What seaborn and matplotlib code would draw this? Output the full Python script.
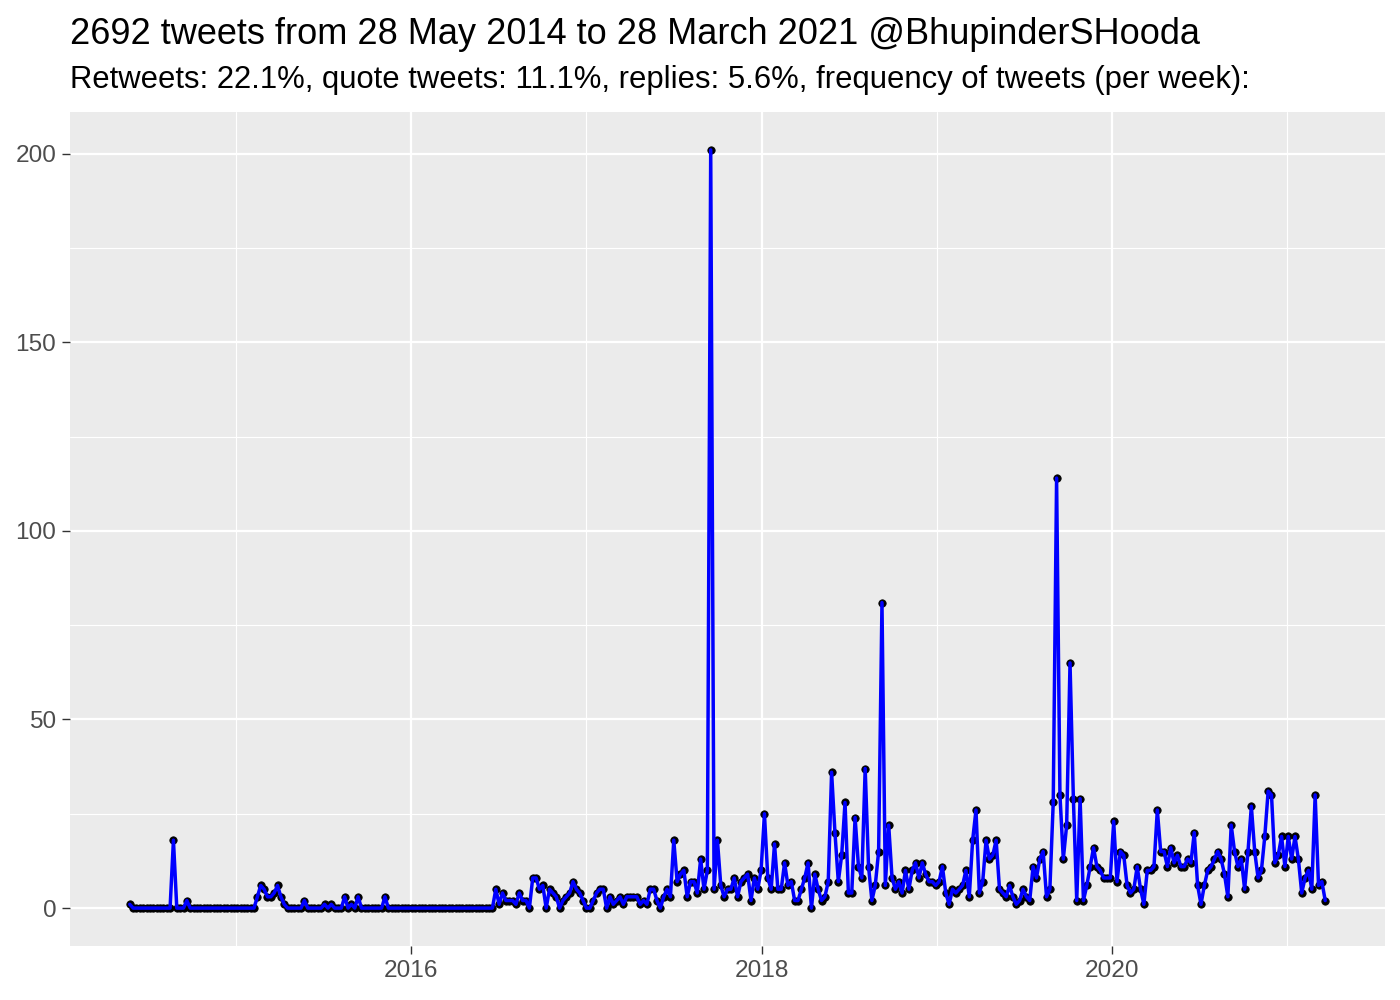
import matplotlib
matplotlib.use("Agg")
import matplotlib.pyplot as plt
import matplotlib.dates as mdates
import seaborn as sns
import pandas as pd
import numpy as np

# ---------------- data (weekly tweet counts) ----------------
start_date = "2014-05-25"

tweets_2014_15 = [
    1, 0, 0, 0, 0, 0, 0, 0, 0, 0, 0, 0, 0, 18, 0, 0, 0, 2, 0, 0,
    0, 0, 0, 0, 0, 0, 0, 0, 0, 0, 0, 0, 0, 0, 0, 0, 0, 0, 3, 6,
    5, 3, 3, 4, 6, 3, 1, 0, 0, 0, 0, 0, 2, 0, 0, 0, 0, 0, 1, 0,
    1, 0, 0, 0, 3, 0, 1, 0, 3, 0, 0, 0, 0, 0, 0, 0, 3,
]
tweets_2016 = [
    0, 0, 0, 0, 0, 0, 0, 0, 0, 0, 0, 0, 0, 0, 0, 0,
    0, 0, 0, 0, 0, 0, 0, 0, 0, 0, 0, 0, 0, 0, 0, 0,
    5, 1, 4, 2, 2, 2, 1, 4, 2, 2, 0, 8, 8, 5, 6, 0, 5, 4, 3, 0,
    2, 3, 4, 7, 5, 4, 2, 0, 0, 2, 4, 5, 5, 0, 3, 1, 2, 3, 1, 3,
]
tweets_2017 = [
    3, 3, 3, 1, 2, 1, 5, 5, 2, 0, 3, 5, 3, 18,
    7, 9, 10, 3, 7, 7, 4, 13, 5, 10, 201,
    5, 18, 6, 3, 5, 5, 8, 3, 7, 8, 9, 2, 8, 5, 10,
]
tweets_2018 = [
    25, 8, 5, 17, 5, 5, 12, 6, 7, 2, 2, 5, 8, 12, 0, 9, 5, 2, 3, 7,
    36, 20, 7, 14, 28, 4, 4, 24, 11, 8, 37, 11, 2, 6, 15, 81, 6, 22,
    8, 5, 7, 4, 10, 5, 10, 12, 8, 12, 9, 7, 7, 6, 7, 11, 4, 1, 5, 4,
    5, 6, 10, 3, 18,
]
tweets_2019 = [
    26, 4, 7, 18, 13, 14, 18, 5, 4, 3, 6, 3, 1, 2, 5, 3, 2, 11, 8, 13,
    15, 3, 5, 28, 114, 30, 13, 22, 65, 29, 2, 29, 2, 6, 11, 16, 11, 10,
    8, 8, 8, 23, 7, 15, 14, 6, 4, 5, 11, 5, 1, 10, 10, 11,
]
tweets_2020_21 = [
    26, 15, 15, 11, 16, 12, 14, 11, 11, 13, 12, 20, 6, 1, 6, 10, 11, 13,
    15, 13, 9, 3, 22, 15, 11, 13, 5, 15, 27, 15, 8, 10, 19, 31, 30, 12,
    14, 19, 11, 19, 13, 19, 13, 4, 8, 10, 5, 30, 6, 7, 2,
]

x_tick_years = [2016, 2018, 2020]
x_minor_years = [2015, 2017, 2019, 2021]
y_ticks = [0, 50, 100, 150, 200]
y_minor = [25, 75, 125, 175]

title = "2692 tweets from 28 May 2014 to 28 March 2021 @BhupinderSHooda"
subtitle = ("Retweets: 22.1%, quote tweets: 11.1%, replies: 5.6%, "
            "frequency of tweets (per week):")

# ---------------- build frame ----------------
counts = (tweets_2014_15 + tweets_2016 + tweets_2017 + tweets_2018
          + tweets_2019 + tweets_2020_21)
dates = pd.date_range(start_date, periods=len(counts), freq="7D")
df = pd.DataFrame({"date": dates, "n": counts})

# ---------------- style ----------------
sns.set_theme(style="white")
plt.rcParams["font.family"] = ["Liberation Sans", "DejaVu Sans"]

W, H = 1400, 1000
fig = plt.figure(figsize=(7, 5), dpi=200)
ax = fig.add_axes([70 / W, 1 - 946 / H, (1385 - 70) / W, (946 - 112) / H])
ax.set_facecolor("#EBEBEB")

sns.scatterplot(data=df, x="date", y="n", color="black", s=7,
                edgecolor="black", linewidth=0.3, ax=ax, zorder=3)
sns.lineplot(data=df, x="date", y="n", color="blue", linewidth=1.25,
             ax=ax, zorder=4)

# limits with ggplot-like 5% expansion
xn = mdates.date2num(df["date"])
xr = xn.max() - xn.min()
ax.set_xlim(xn.min() - 0.05 * xr, xn.max() + 0.05 * xr)
yr = max(counts) - min(counts)
ax.set_ylim(min(counts) - 0.05 * yr, max(counts) + 0.05 * yr)

ax.set_xticks([mdates.date2num(pd.Timestamp(f"{y}-01-01")) for y in x_tick_years])
ax.set_xticklabels([str(y) for y in x_tick_years])
ax.set_xticks([mdates.date2num(pd.Timestamp(f"{y}-01-01")) for y in x_minor_years],
              minor=True)
ax.set_yticks(y_ticks)
ax.set_yticklabels([str(v) for v in y_ticks])
ax.set_yticks(y_minor, minor=True)

ax.grid(which="major", color="white", linewidth=0.8)
ax.grid(which="minor", color="white", linewidth=0.4)
ax.set_axisbelow(True)
for s in ax.spines.values():
    s.set_visible(False)

ax.tick_params(which="major", length=2.75, width=0.5, color="#333333",
               labelsize=8.8, labelcolor="#4D4D4D", pad=2.2,
               bottom=True, left=True)
ax.tick_params(which="minor", length=0, bottom=False, left=False)
ax.set_xlabel("")
ax.set_ylabel("")

fig.text(70 / W, 1 - 44 / H, title, fontsize=13.03, ha="left",
         va="baseline", color="black")
fig.text(70 / W, 1 - 88 / H, subtitle, fontsize=11.17, ha="left",
         va="baseline", color="black")

fig.savefig("out.png", dpi=200)
